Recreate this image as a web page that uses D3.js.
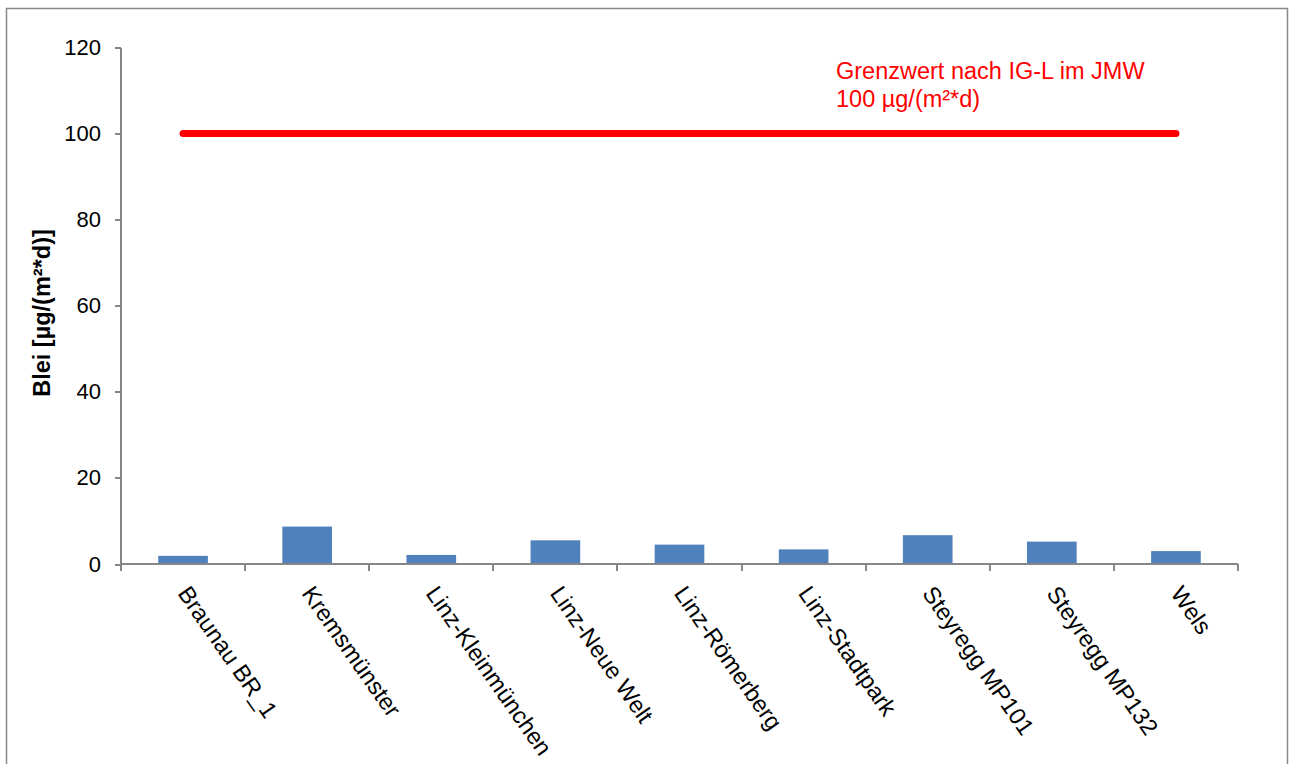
<!DOCTYPE html>
<meta charset="utf-8">
<head>
<style>
body { margin: 0; background: #fff; }
text { font-family: "Liberation Sans", Arial, sans-serif; }
.axis path, .axis line { stroke: #868686; stroke-width: 2; fill: none; shape-rendering: crispEdges; }
.axis text { font-size: 22px; fill: #000; }
.axis text.lab { font-size: 23.5px; }
</style>
<script src="https://cdn.jsdelivr.net/npm/d3@7"></script>
</head>
<body>
<script>
// Messstellen und Bleideposition (Jahresmittelwert)
var stations = ["Braunau BR_1", "Kremsmünster", "Linz-Kleinmünchen", "Linz-Neue Welt",
    "Linz-Römerberg", "Linz-Stadtpark", "Steyregg MP101", "Steyregg MP132", "Wels"];
var blei = [1.9, 8.7, 2.1, 5.5, 4.5, 3.4, 6.7, 5.2, 3.0];
var yTicks = [0, 20, 40, 60, 80, 100, 120];
var limitValue = 100;
var limitText = ["Grenzwert nach IG-L im JMW", "100 µg/(m²*d)"];
var yTitle = "Blei [µg/(m²*d)]";

var W = 1289, H = 764;
var margin = { top: 47.5, left: 121 },
    width = 1117,
    height = 516.5;

var svg = d3.select("body").append("svg")
    .attr("width", W)
    .attr("height", H);

// Rahmen
svg.append("rect")
    .attr("x", 6.5).attr("y", 8.5)
    .attr("width", 1281).attr("height", 800)
    .attr("fill", "none")
    .attr("stroke", "#888")
    .attr("stroke-width", 1.5);

var g = svg.append("g")
    .attr("transform", "translate(" + margin.left + "," + margin.top + ")");

var x = d3.scaleBand()
    .domain(stations)
    .range([0, width])
    .paddingInner(0.6)
    .paddingOuter(0.3);

var y = d3.scaleLinear()
    .domain([0, 120])
    .range([height, 0]);

// y-Achse
var yAxis = g.append("g")
    .attr("class", "axis")
    .call(d3.axisLeft(y).tickValues(yTicks).tickSize(6).tickPadding(14));
yAxis.select(".domain").attr("d", "M0,0V" + height);

// Balken
g.selectAll(".bar")
    .data(blei)
    .enter().append("rect")
    .attr("class", "bar")
    .attr("x", function (d, i) { return x(stations[i]); })
    .attr("width", x.bandwidth())
    .attr("y", function (d) { return y(d); })
    .attr("height", function (d) { return height - y(d); })
    .attr("fill", "#4F81BD");

// x-Achse mit Teilstrichen an den Kategoriegrenzen
var xa = g.append("g")
    .attr("class", "axis")
    .attr("transform", "translate(0," + height + ")");
xa.append("line")
    .attr("x1", 0).attr("x2", width)
    .attr("y1", 0).attr("y2", 0);
var step = x.step();
xa.selectAll(".tick")
    .data(d3.range(stations.length + 1))
    .enter().append("line")
    .attr("x1", function (d) { return d * step; })
    .attr("x2", function (d) { return d * step; })
    .attr("y1", 0).attr("y2", 7);

xa.selectAll(".lab")
    .data(stations)
    .enter().append("text")
    .attr("class", "lab")
    .attr("transform", function (d) {
        return "translate(" + (x(d) + x.bandwidth() / 2 + 7.5) + ",20) rotate(55)";
    })
    .attr("dy", "0.71em")
    .attr("text-anchor", "start")
    .text(function (d) { return d; });

// Grenzwert
g.append("line")
    .attr("x1", x(stations[0]) + x.bandwidth() / 2)
    .attr("x2", x(stations[stations.length - 1]) + x.bandwidth() / 2)
    .attr("y1", y(limitValue))
    .attr("y2", y(limitValue))
    .attr("stroke", "#FF0000")
    .attr("stroke-width", 7)
    .attr("stroke-linecap", "round");

svg.selectAll(".limtxt")
    .data(limitText)
    .enter().append("text")
    .attr("x", 836)
    .attr("y", function (d, i) { return 79 + i * 28; })
    .attr("fill", "#FF0000")
    .style("font-size", "23.5px")
    .text(function (d) { return d; });

// Achsentitel
svg.append("text")
    .attr("transform", "translate(50,313) rotate(-90)")
    .attr("text-anchor", "middle")
    .style("font-size", "23.5px")
    .style("font-weight", "bold")
    .text(yTitle);
</script>
</body>
